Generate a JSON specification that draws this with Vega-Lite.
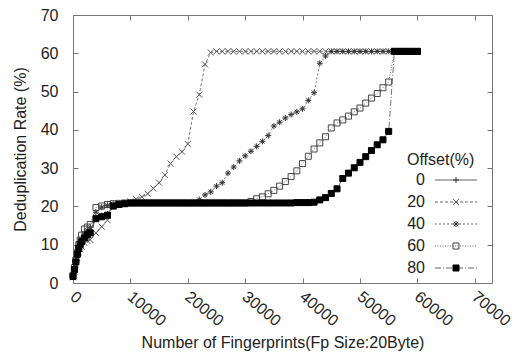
{
"$schema":"https://vega.github.io/schema/vega-lite/v6.json",
"width":419,"height":268,"autosize":"none",
"padding":{"left":73,"top":15,"right":26,"bottom":74},
"config":{"font":"Liberation Sans","view":{"stroke":"#777","strokeWidth":1},
"axis":{"domain":false,"grid":false,"tickColor":"#777","tickSize":-5,"labelFont":"Liberation Sans","labelFontSize":16,"labelColor":"#222","titleFont":"Liberation Sans","titleFontSize":16,"titleFontWeight":"normal","titleColor":"#222"}},
"data":{"values":[
{"s":"0","x":0,"y":1.8},{"s":"0","x":250,"y":3.6},{"s":"0","x":500,"y":5.6},{"s":"0","x":750,"y":7.6},{"s":"0","x":1000,"y":9.2},{"s":"0","x":1250,"y":10.2},{"s":"0","x":1500,"y":11},{"s":"0","x":2000,"y":12},{"s":"0","x":2500,"y":12.8},{"s":"0","x":3000,"y":13.4},{"s":"0","x":4000,"y":17},{"s":"0","x":5000,"y":17.6},{"s":"0","x":6000,"y":18},{"s":"0","x":7000,"y":20.2},{"s":"0","x":8000,"y":20.6},{"s":"0","x":9000,"y":20.8},
{"s":"0","x":10000,"y":20.9},{"s":"0","x":11000,"y":20.9},{"s":"0","x":12000,"y":20.9},{"s":"0","x":13000,"y":20.9},{"s":"0","x":14000,"y":20.9},{"s":"0","x":15000,"y":20.9},{"s":"0","x":16000,"y":20.9},{"s":"0","x":17000,"y":20.9},{"s":"0","x":18000,"y":20.9},{"s":"0","x":19000,"y":20.9},{"s":"0","x":20000,"y":20.9},{"s":"0","x":21000,"y":20.9},{"s":"0","x":22000,"y":20.9},{"s":"0","x":23000,"y":20.9},{"s":"0","x":24000,"y":20.9},{"s":"0","x":25000,"y":20.9},{"s":"0","x":26000,"y":20.9},{"s":"0","x":27000,"y":20.9},{"s":"0","x":28000,"y":20.9},{"s":"0","x":29000,"y":20.9},{"s":"0","x":30000,"y":20.9},{"s":"0","x":31000,"y":20.9},{"s":"0","x":32000,"y":20.9},{"s":"0","x":33000,"y":20.9},{"s":"0","x":34000,"y":20.9},{"s":"0","x":35000,"y":20.9},{"s":"0","x":36000,"y":20.9},{"s":"0","x":37000,"y":20.9},{"s":"0","x":38000,"y":20.9},{"s":"0","x":39000,"y":20.9},{"s":"0","x":40000,"y":20.9},{"s":"0","x":41000,"y":20.9},
{"s":"20","x":0,"y":1.5},{"s":"20","x":250,"y":3},{"s":"20","x":500,"y":4.8},{"s":"20","x":750,"y":6.5},{"s":"20","x":1000,"y":8},{"s":"20","x":1250,"y":8.8},{"s":"20","x":1500,"y":9.5},{"s":"20","x":2000,"y":10.5},{"s":"20","x":2500,"y":11},{"s":"20","x":3000,"y":11.3},{"s":"20","x":4000,"y":13.1},{"s":"20","x":5000,"y":14.7},{"s":"20","x":6000,"y":16.4},{"s":"20","x":7000,"y":20},{"s":"20","x":8000,"y":20.5},{"s":"20","x":9000,"y":20.8},
{"s":"20","x":10000,"y":21.3},{"s":"20","x":11000,"y":21.9},{"s":"20","x":12000,"y":22.5},{"s":"20","x":13000,"y":23.3},{"s":"20","x":14000,"y":24.7},{"s":"20","x":15000,"y":26.2},{"s":"20","x":16000,"y":28.2},{"s":"20","x":17000,"y":31.2},{"s":"20","x":18000,"y":33},{"s":"20","x":19000,"y":34.3},{"s":"20","x":20000,"y":36.3},{"s":"20","x":21000,"y":44.8},{"s":"20","x":22000,"y":49.2},{"s":"20","x":23000,"y":57.1},{"s":"20","x":24000,"y":60.2},
{"s":"20","x":25000,"y":60.5},{"s":"20","x":26000,"y":60.5},{"s":"20","x":27000,"y":60.5},{"s":"20","x":28000,"y":60.5},{"s":"20","x":29000,"y":60.5},{"s":"20","x":30000,"y":60.5},{"s":"20","x":31000,"y":60.5},{"s":"20","x":32000,"y":60.5},{"s":"20","x":33000,"y":60.5},{"s":"20","x":34000,"y":60.5},{"s":"20","x":35000,"y":60.5},{"s":"20","x":36000,"y":60.5},{"s":"20","x":37000,"y":60.5},{"s":"20","x":38000,"y":60.5},{"s":"20","x":39000,"y":60.5},{"s":"20","x":40000,"y":60.5},{"s":"20","x":41000,"y":60.5},{"s":"20","x":42000,"y":60.5},{"s":"20","x":43000,"y":60.5},{"s":"20","x":44000,"y":60.5},{"s":"20","x":45000,"y":60.5},{"s":"20","x":46000,"y":60.5},{"s":"20","x":47000,"y":60.5},{"s":"20","x":48000,"y":60.5},{"s":"20","x":49000,"y":60.5},{"s":"20","x":50000,"y":60.5},{"s":"20","x":51000,"y":60.5},{"s":"20","x":52000,"y":60.5},{"s":"20","x":53000,"y":60.5},{"s":"20","x":54000,"y":60.5},{"s":"20","x":55000,"y":60.5},{"s":"20","x":56000,"y":60.5},{"s":"20","x":57000,"y":60.5},{"s":"20","x":58000,"y":60.5},{"s":"20","x":59000,"y":60.5},{"s":"20","x":60000,"y":60.5},
{"s":"40","x":0,"y":2},{"s":"40","x":250,"y":3.8},{"s":"40","x":500,"y":5.8},{"s":"40","x":750,"y":7.8},{"s":"40","x":1000,"y":9.5},{"s":"40","x":1250,"y":10.5},{"s":"40","x":1500,"y":11.5},{"s":"40","x":2000,"y":13},{"s":"40","x":2500,"y":13.8},{"s":"40","x":3000,"y":14.5},{"s":"40","x":4000,"y":18.5},{"s":"40","x":5000,"y":19.8},{"s":"40","x":6000,"y":20.3},{"s":"40","x":7000,"y":20.6},{"s":"40","x":8000,"y":20.8},{"s":"40","x":9000,"y":20.9},
{"s":"40","x":10000,"y":20.9},{"s":"40","x":11000,"y":20.9},{"s":"40","x":12000,"y":20.9},{"s":"40","x":13000,"y":20.9},{"s":"40","x":14000,"y":20.9},{"s":"40","x":15000,"y":20.9},{"s":"40","x":16000,"y":20.9},{"s":"40","x":17000,"y":20.9},{"s":"40","x":18000,"y":20.9},{"s":"40","x":19000,"y":20.9},{"s":"40","x":20000,"y":20.9},{"s":"40","x":21000,"y":20.9},
{"s":"40","x":22000,"y":21.8},{"s":"40","x":23000,"y":23},{"s":"40","x":24000,"y":23.8},{"s":"40","x":25000,"y":25.3},{"s":"40","x":26000,"y":26.2},{"s":"40","x":27000,"y":28.7},{"s":"40","x":28000,"y":30.3},{"s":"40","x":29000,"y":31.9},{"s":"40","x":30000,"y":33.2},{"s":"40","x":31000,"y":34.4},{"s":"40","x":32000,"y":35.7},{"s":"40","x":33000,"y":37},{"s":"40","x":34000,"y":38.5},{"s":"40","x":35000,"y":41},{"s":"40","x":36000,"y":42},{"s":"40","x":37000,"y":43.1},{"s":"40","x":38000,"y":44},{"s":"40","x":39000,"y":44.7},{"s":"40","x":40000,"y":45.5},{"s":"40","x":41000,"y":47.7},{"s":"40","x":42000,"y":49.7},{"s":"40","x":43000,"y":57.4},{"s":"40","x":44000,"y":59.3},
{"s":"40","x":45000,"y":60.5},{"s":"40","x":46000,"y":60.5},{"s":"40","x":47000,"y":60.5},{"s":"40","x":48000,"y":60.5},{"s":"40","x":49000,"y":60.5},{"s":"40","x":50000,"y":60.5},{"s":"40","x":51000,"y":60.5},{"s":"40","x":52000,"y":60.5},{"s":"40","x":53000,"y":60.5},{"s":"40","x":54000,"y":60.5},{"s":"40","x":55000,"y":60.5},{"s":"40","x":56000,"y":60.5},{"s":"40","x":57000,"y":60.5},{"s":"40","x":58000,"y":60.5},{"s":"40","x":59000,"y":60.5},{"s":"40","x":60000,"y":60.5},
{"s":"60","x":0,"y":2},{"s":"60","x":250,"y":4},{"s":"60","x":500,"y":6},{"s":"60","x":750,"y":8},{"s":"60","x":1000,"y":10},{"s":"60","x":1250,"y":11.2},{"s":"60","x":1500,"y":12.5},{"s":"60","x":2000,"y":14.1},{"s":"60","x":2500,"y":14.6},{"s":"60","x":3000,"y":15.3},{"s":"60","x":4000,"y":19.7},{"s":"60","x":5000,"y":20.1},{"s":"60","x":6000,"y":20.5},{"s":"60","x":7000,"y":20.7},{"s":"60","x":8000,"y":20.8},{"s":"60","x":9000,"y":20.9},
{"s":"60","x":10000,"y":20.9},{"s":"60","x":11000,"y":20.9},{"s":"60","x":12000,"y":20.9},{"s":"60","x":13000,"y":20.9},{"s":"60","x":14000,"y":20.9},{"s":"60","x":15000,"y":20.9},{"s":"60","x":16000,"y":20.9},{"s":"60","x":17000,"y":20.9},{"s":"60","x":18000,"y":20.9},{"s":"60","x":19000,"y":20.9},{"s":"60","x":20000,"y":20.9},{"s":"60","x":21000,"y":20.9},{"s":"60","x":22000,"y":20.9},{"s":"60","x":23000,"y":20.9},{"s":"60","x":24000,"y":20.9},{"s":"60","x":25000,"y":20.9},{"s":"60","x":26000,"y":20.9},{"s":"60","x":27000,"y":20.9},{"s":"60","x":28000,"y":20.9},{"s":"60","x":29000,"y":20.9},{"s":"60","x":30000,"y":20.9},
{"s":"60","x":31000,"y":21.3},{"s":"60","x":32000,"y":22},{"s":"60","x":33000,"y":22.5},{"s":"60","x":34000,"y":23.3},{"s":"60","x":35000,"y":24.2},{"s":"60","x":36000,"y":25.3},{"s":"60","x":37000,"y":26.5},{"s":"60","x":38000,"y":27.8},{"s":"60","x":39000,"y":29.3},{"s":"60","x":40000,"y":31.2},{"s":"60","x":41000,"y":33.1},{"s":"60","x":42000,"y":35},{"s":"60","x":43000,"y":36.6},{"s":"60","x":44000,"y":38.2},{"s":"60","x":45000,"y":40.5},{"s":"60","x":46000,"y":41.8},{"s":"60","x":47000,"y":42.6},{"s":"60","x":48000,"y":43.6},{"s":"60","x":49000,"y":44.7},{"s":"60","x":50000,"y":45.7},{"s":"60","x":51000,"y":47},{"s":"60","x":52000,"y":48.3},{"s":"60","x":53000,"y":49.5},{"s":"60","x":54000,"y":51},{"s":"60","x":55000,"y":52.5},
{"s":"60","x":56000,"y":60.5},{"s":"60","x":57000,"y":60.5},{"s":"60","x":58000,"y":60.5},{"s":"60","x":59000,"y":60.5},{"s":"60","x":60000,"y":60.5},
{"s":"80","x":0,"y":1.7},{"s":"80","x":250,"y":3.5},{"s":"80","x":500,"y":5.5},{"s":"80","x":750,"y":7.5},{"s":"80","x":1000,"y":9},{"s":"80","x":1250,"y":10},{"s":"80","x":1500,"y":10.8},{"s":"80","x":2000,"y":11.8},{"s":"80","x":2500,"y":12.6},{"s":"80","x":3000,"y":13.1},{"s":"80","x":4000,"y":16.8},{"s":"80","x":5000,"y":17.3},{"s":"80","x":6000,"y":17.7},{"s":"80","x":7000,"y":20.1},{"s":"80","x":8000,"y":20.5},{"s":"80","x":9000,"y":20.7},
{"s":"80","x":10000,"y":20.9},{"s":"80","x":11000,"y":20.9},{"s":"80","x":12000,"y":20.9},{"s":"80","x":13000,"y":20.9},{"s":"80","x":14000,"y":20.9},{"s":"80","x":15000,"y":20.9},{"s":"80","x":16000,"y":20.9},{"s":"80","x":17000,"y":20.9},{"s":"80","x":18000,"y":20.9},{"s":"80","x":19000,"y":20.9},{"s":"80","x":20000,"y":20.9},{"s":"80","x":21000,"y":20.9},{"s":"80","x":22000,"y":20.9},{"s":"80","x":23000,"y":20.9},{"s":"80","x":24000,"y":20.9},{"s":"80","x":25000,"y":20.9},{"s":"80","x":26000,"y":20.9},{"s":"80","x":27000,"y":20.9},{"s":"80","x":28000,"y":20.9},{"s":"80","x":29000,"y":20.9},{"s":"80","x":30000,"y":20.9},{"s":"80","x":31000,"y":20.9},{"s":"80","x":32000,"y":20.9},{"s":"80","x":33000,"y":20.9},{"s":"80","x":34000,"y":20.9},{"s":"80","x":35000,"y":20.9},{"s":"80","x":36000,"y":20.9},{"s":"80","x":37000,"y":20.9},{"s":"80","x":38000,"y":20.9},{"s":"80","x":39000,"y":21},{"s":"80","x":40000,"y":21},{"s":"80","x":41000,"y":21},
{"s":"80","x":42000,"y":21.1},{"s":"80","x":43000,"y":21.7},{"s":"80","x":44000,"y":22.3},{"s":"80","x":45000,"y":23.4},{"s":"80","x":46000,"y":24.6},{"s":"80","x":47000,"y":27.3},{"s":"80","x":48000,"y":28.7},{"s":"80","x":49000,"y":30.1},{"s":"80","x":50000,"y":31.5},{"s":"80","x":51000,"y":33},{"s":"80","x":52000,"y":34.6},{"s":"80","x":53000,"y":36.1},{"s":"80","x":54000,"y":37.4},{"s":"80","x":55000,"y":39.6},
{"s":"80","x":56000,"y":60.5},{"s":"80","x":57000,"y":60.5},{"s":"80","x":58000,"y":60.5},{"s":"80","x":59000,"y":60.5},{"s":"80","x":60000,"y":60.5}
]},
"layer":[
{"mark":{"type":"line","stroke":"#777","strokeWidth":1},
 "encoding":{
  "x":{"field":"x","type":"quantitative","scale":{"domain":[0,73000],"nice":false,"zero":false},
   "axis":{"values":[0,10000,20000,30000,40000,50000,60000,70000],"format":"d","labelAngle":40,"labelAlign":"left","labelBaseline":"top","labelPadding":10,"labelOffset":4,"title":"Number of Fingerprints(Fp Size:20Byte)","titlePadding":6}},
  "y":{"field":"y","type":"quantitative","scale":{"domain":[0,70],"nice":false},
   "axis":{"values":[0,10,20,30,40,50,60,70],"title":"Deduplication Rate (%)","labelPadding":20,"titlePadding":12}},
  "strokeDash":{"field":"s","type":"nominal","scale":{"domain":["0","20","40","60","80"],"range":[[1,0],[3,2],[2,2],[1,1.5],[6,2,1,2]]},
   "legend":{"orient":"none","legendX":334,"legendY":137,"padding":0,"title":"Offset(%)","titleFontSize":16,"titleFontWeight":"normal","titleColor":"#222","titlePadding":4,"labelFontSize":16,"labelColor":"#222","labelAlign":"right","labelOffset":-39,"symbolOffset":41,"symbolType":"M-7,0H7","symbolSize":36,"symbolStrokeWidth":1,"symbolStrokeColor":"#666","symbolFillColor":"transparent","rowPadding":6}}
 }},
{"mark":{"type":"point","size":36,"strokeWidth":1,"opacity":1},
 "encoding":{
  "x":{"field":"x","type":"quantitative","axis":{"orient":"top","labels":false,"title":null,"values":[0,10000,20000,30000,40000,50000,60000,70000]}},
  "y":{"field":"y","type":"quantitative","axis":{"orient":"right","labels":false,"title":null,"values":[0,10,20,30,40,50,60,70]}},
  "shape":{"field":"s","type":"nominal","scale":{"range":["M-1,0H1M0,-1V1","M-1,-1L1,1M-1,1L1,-1","M-1,0H1M0,-1V1M-0.7,-0.7L0.7,0.7M-0.7,0.7L0.7,-0.7","square","square"]},
   "legend":{"orient":"none","legendX":334,"legendY":157,"padding":0,"title":null,"labelFontSize":16,"labelOpacity":0,"symbolOffset":41,"symbolSize":36,"symbolStrokeWidth":1,"rowPadding":6}},
  "fill":{"field":"s","type":"nominal","scale":{"range":["transparent","transparent","transparent","transparent","#000"]},
   "legend":{"orient":"none","legendX":334,"legendY":157,"padding":0,"title":null,"labelFontSize":16,"labelOpacity":0,"symbolOffset":41,"symbolSize":36,"symbolStrokeWidth":1,"rowPadding":6}},
  "stroke":{"field":"s","type":"nominal","scale":{"range":["#333","#555","#333","#444","#000"]},
   "legend":{"orient":"none","legendX":334,"legendY":157,"padding":0,"title":null,"labelFontSize":16,"labelOpacity":0,"symbolOffset":41,"symbolSize":36,"symbolStrokeWidth":1,"rowPadding":6}}
 }}
],
"resolve":{"axis":{"x":"independent","y":"independent"}}
}
